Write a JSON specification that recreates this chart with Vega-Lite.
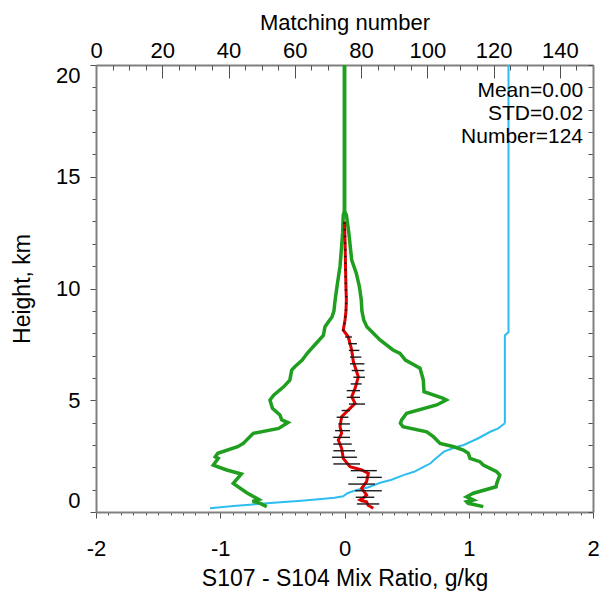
{
  "$schema": "https://vega.github.io/schema/vega-lite/v6.json",
  "autosize": "none",
  "width": 497,
  "height": 447,
  "padding": {"left": 96, "top": 65, "right": 11, "bottom": 83},
  "background": "white",
  "config": {
    "font": "Liberation Sans",
    "view": {"stroke": null},
    "axis": {
      "domainColor": "#808080",
      "domainWidth": 2,
      "tickColor": "#505050",
      "tickWidth": 1,
      "labelColor": "black",
      "titleColor": "black",
      "labelFont": "Liberation Sans",
      "titleFont": "Liberation Sans",
      "labelFontSize": 22,
      "titleFontSize": 23,
      "titleFontWeight": "normal",
      "grid": false,
      "labelOverlap": false,
      "labelBound": false
    }
  },
  "datasets": {
    "green": [
      {"side": "lo", "h": 0.24, "x": -0.626}, {"side": "lo", "h": 0.44, "x": -0.70}, {"side": "lo", "h": 0.47, "x": -0.74},
      {"side": "lo", "h": 0.56, "x": -0.69}, {"side": "lo", "h": 0.86, "x": -0.787}, {"side": "lo", "h": 1.28, "x": -0.895},
      {"side": "lo", "h": 1.70, "x": -0.83}, {"side": "lo", "h": 1.88, "x": -0.948}, {"side": "lo", "h": 2.10, "x": -1.056},
      {"side": "lo", "h": 2.40, "x": -1.016}, {"side": "lo", "h": 2.47, "x": -1.04}, {"side": "lo", "h": 2.63, "x": -1.02},
      {"side": "lo", "h": 2.92, "x": -0.86}, {"side": "lo", "h": 3.07, "x": -0.815}, {"side": "lo", "h": 3.52, "x": -0.734},
      {"side": "lo", "h": 3.74, "x": -0.53}, {"side": "lo", "h": 4.0, "x": -0.455}, {"side": "lo", "h": 4.12, "x": -0.505},
      {"side": "lo", "h": 4.34, "x": -0.52}, {"side": "lo", "h": 4.64, "x": -0.58}, {"side": "lo", "h": 5.01, "x": -0.60},
      {"side": "lo", "h": 5.23, "x": -0.57}, {"side": "lo", "h": 5.6, "x": -0.49}, {"side": "lo", "h": 5.9, "x": -0.44},
      {"side": "lo", "h": 6.35, "x": -0.425}, {"side": "lo", "h": 6.5, "x": -0.40}, {"side": "lo", "h": 6.8, "x": -0.34},
      {"side": "lo", "h": 7.1, "x": -0.30}, {"side": "lo", "h": 7.47, "x": -0.24}, {"side": "lo", "h": 7.9, "x": -0.17},
      {"side": "lo", "h": 8.29, "x": -0.157}, {"side": "lo", "h": 8.74, "x": -0.10}, {"side": "lo", "h": 9.0, "x": -0.085},
      {"side": "lo", "h": 9.5, "x": -0.075}, {"side": "lo", "h": 10.1, "x": -0.06}, {"side": "lo", "h": 11.0, "x": -0.036},
      {"side": "lo", "h": 11.9, "x": -0.023}, {"side": "lo", "h": 12.5, "x": -0.015}, {"side": "lo", "h": 13.3, "x": -0.01},
      {"side": "lo", "h": 13.45, "x": 0}, {"side": "lo", "h": 20, "x": 0},
      {"side": "hi", "h": 0.24, "x": 1.117}, {"side": "hi", "h": 0.39, "x": 0.996}, {"side": "hi", "h": 0.46, "x": 0.983},
      {"side": "hi", "h": 0.54, "x": 1.037}, {"side": "hi", "h": 0.68, "x": 0.983}, {"side": "hi", "h": 0.84, "x": 1.037},
      {"side": "hi", "h": 1.13, "x": 1.22}, {"side": "hi", "h": 1.28, "x": 1.225}, {"side": "hi", "h": 1.65, "x": 1.25},
      {"side": "hi", "h": 1.80, "x": 1.225}, {"side": "hi", "h": 2.10, "x": 1.117}, {"side": "hi", "h": 2.25, "x": 1.09},
      {"side": "hi", "h": 2.40, "x": 1.01}, {"side": "hi", "h": 2.63, "x": 0.996}, {"side": "hi", "h": 2.77, "x": 0.956},
      {"side": "hi", "h": 2.92, "x": 0.88}, {"side": "hi", "h": 3.07, "x": 0.769}, {"side": "hi", "h": 3.37, "x": 0.715},
      {"side": "hi", "h": 3.59, "x": 0.662}, {"side": "hi", "h": 3.82, "x": 0.47}, {"side": "hi", "h": 3.97, "x": 0.45},
      {"side": "hi", "h": 4.12, "x": 0.46}, {"side": "hi", "h": 4.42, "x": 0.50}, {"side": "hi", "h": 4.79, "x": 0.742},
      {"side": "hi", "h": 5.01, "x": 0.82}, {"side": "hi", "h": 5.09, "x": 0.795}, {"side": "hi", "h": 5.38, "x": 0.64},
      {"side": "hi", "h": 5.91, "x": 0.634}, {"side": "hi", "h": 6.43, "x": 0.608}, {"side": "hi", "h": 6.80, "x": 0.49},
      {"side": "hi", "h": 7.10, "x": 0.447}, {"side": "hi", "h": 7.25, "x": 0.39}, {"side": "hi", "h": 7.70, "x": 0.286},
      {"side": "hi", "h": 8.0, "x": 0.232}, {"side": "hi", "h": 8.29, "x": 0.18}, {"side": "hi", "h": 8.59, "x": 0.155},
      {"side": "hi", "h": 9.0, "x": 0.14}, {"side": "hi", "h": 9.5, "x": 0.135}, {"side": "hi", "h": 10.08, "x": 0.12},
      {"side": "hi", "h": 10.68, "x": 0.095}, {"side": "hi", "h": 11.27, "x": 0.058}, {"side": "hi", "h": 12.47, "x": 0.035},
      {"side": "hi", "h": 13.3, "x": 0.015}, {"side": "hi", "h": 13.45, "x": 0}, {"side": "hi", "h": 20, "x": 0}
    ],
    "red": [
      {"h": 0.17, "x": 0.232}, {"h": 0.30, "x": 0.19}, {"h": 0.46, "x": 0.178}, {"h": 0.50, "x": 0.14},
      {"h": 0.54, "x": 0.125}, {"h": 0.62, "x": 0.15}, {"h": 0.76, "x": 0.178}, {"h": 1.06, "x": 0.138},
      {"h": 1.36, "x": 0.178}, {"h": 1.73, "x": 0.192}, {"h": 1.88, "x": 0.138}, {"h": 2.03, "x": 0.044},
      {"h": 2.40, "x": -0.01}, {"h": 2.85, "x": -0.023}, {"h": 3.22, "x": -0.05}, {"h": 3.52, "x": -0.023},
      {"h": 3.82, "x": -0.036}, {"h": 4.26, "x": -0.023}, {"h": 4.56, "x": 0.03}, {"h": 4.86, "x": 0.085},
      {"h": 5.16, "x": 0.058}, {"h": 5.53, "x": 0.085}, {"h": 6.05, "x": 0.111}, {"h": 6.73, "x": 0.071},
      {"h": 7.25, "x": 0.058}, {"h": 7.84, "x": 0.03}, {"h": 8.14, "x": -0.01}, {"h": 8.3, "x": -0.005},
      {"h": 8.59, "x": 0.004}, {"h": 9.0, "x": 0.012}, {"h": 9.5, "x": 0.015}, {"h": 10.0, "x": 0.012},
      {"h": 11.0, "x": 0.008}, {"h": 12.0, "x": 0.005}, {"h": 13.0, "x": 0.0}
    ],
    "bars": [
      {"h": 0.36, "lo": 0.10, "hi": 0.28}, {"h": 0.66, "lo": 0.09, "hi": 0.24}, {"h": 0.95, "lo": 0.085, "hi": 0.30},
      {"h": 1.25, "lo": 0.03, "hi": 0.245}, {"h": 1.55, "lo": 0.10, "hi": 0.30}, {"h": 1.85, "lo": 0.05, "hi": 0.26},
      {"h": 2.15, "lo": -0.09, "hi": 0.125}, {"h": 2.45, "lo": -0.10, "hi": 0.10}, {"h": 2.74, "lo": -0.09, "hi": 0.085},
      {"h": 3.04, "lo": -0.09, "hi": 0.058}, {"h": 3.34, "lo": -0.09, "hi": 0.044}, {"h": 3.64, "lo": -0.076, "hi": 0.044},
      {"h": 3.94, "lo": -0.05, "hi": 0.044}, {"h": 4.24, "lo": -0.063, "hi": 0.031}, {"h": 4.54, "lo": -0.023, "hi": 0.044},
      {"h": 4.83, "lo": 0.035, "hi": 0.165}, {"h": 5.13, "lo": 0.018, "hi": 0.125}, {"h": 5.43, "lo": 0.018, "hi": 0.125},
      {"h": 5.73, "lo": 0.05, "hi": 0.138}, {"h": 6.03, "lo": 0.071, "hi": 0.165}, {"h": 6.33, "lo": 0.058, "hi": 0.16},
      {"h": 6.63, "lo": 0.044, "hi": 0.16}, {"h": 6.93, "lo": 0.044, "hi": 0.135}, {"h": 7.23, "lo": 0.035, "hi": 0.12},
      {"h": 7.53, "lo": 0.03, "hi": 0.10}, {"h": 7.83, "lo": 0.005, "hi": 0.06},
      {"h": 8.13, "lo": -0.02, "hi": 0.0}, {"h": 8.43, "lo": -0.01, "hi": 0.01}, {"h": 8.73, "lo": -0.003, "hi": 0.017},
      {"h": 9.03, "lo": 0.002, "hi": 0.022}, {"h": 9.33, "lo": 0.004, "hi": 0.024}, {"h": 9.63, "lo": 0.004, "hi": 0.024},
      {"h": 9.93, "lo": 0.002, "hi": 0.022}, {"h": 10.23, "lo": 0.001, "hi": 0.021}, {"h": 10.53, "lo": 0.0, "hi": 0.02},
      {"h": 10.83, "lo": -0.001, "hi": 0.019}, {"h": 11.13, "lo": -0.002, "hi": 0.018}, {"h": 11.43, "lo": -0.003, "hi": 0.017},
      {"h": 11.73, "lo": -0.004, "hi": 0.016}, {"h": 12.03, "lo": -0.005, "hi": 0.015}, {"h": 12.33, "lo": -0.006, "hi": 0.014},
      {"h": 12.63, "lo": -0.008, "hi": 0.012}, {"h": 12.93, "lo": -0.01, "hi": 0.01}
    ],
    "cyanLow": [
      {"h": 0.17, "n": 34.4}, {"h": 0.27, "n": 41.5}, {"h": 0.39, "n": 51.5}, {"h": 0.50, "n": 62}, {"h": 0.58, "n": 68},
      {"h": 0.64, "n": 72}, {"h": 0.70, "n": 74.6}, {"h": 0.85, "n": 76}, {"h": 1.00, "n": 79}, {"h": 1.10, "n": 82},
      {"h": 1.32, "n": 86}, {"h": 1.43, "n": 89}, {"h": 1.66, "n": 93}, {"h": 1.80, "n": 96}, {"h": 2.03, "n": 99},
      {"h": 2.18, "n": 101}, {"h": 2.33, "n": 102}, {"h": 2.70, "n": 105}, {"h": 2.92, "n": 109}, {"h": 3.00, "n": 111},
      {"h": 3.30, "n": 115.4}, {"h": 3.59, "n": 119}, {"h": 3.74, "n": 121.4}, {"h": 3.97, "n": 123.4}
    ],
    "cyanHigh": [
      {"h": 3.97, "n": 123.4}, {"h": 7.9, "n": 123.4}, {"h": 8.05, "n": 124.5}, {"h": 20, "n": 124.5}
    ],
    "stats": [
      {"label": "Mean=0.00\nSTD=0.02\nNumber=124"}
    ]
  },
  "layer": [
    {
      "mark": {"type": "rule", "color": "#8c8c8c", "strokeWidth": 2},
      "encoding": {
        "x": {
          "datum": 0, "type": "quantitative",
          "scale": {"domain": [-2, 2], "nice": false, "zero": false},
          "axis": {
            "orient": "bottom",
            "title": "S107 - S104 Mix Ratio, g/kg",
            "values": [-2, -1.9, -1.8, -1.7, -1.6, -1.5, -1.4, -1.3, -1.2, -1.1, -1, -0.9, -0.8, -0.7, -0.6, -0.5, -0.4, -0.3, -0.2, -0.1, 0, 0.1, 0.2, 0.3, 0.4, 0.5, 0.6, 0.7, 0.8, 0.9, 1, 1.1, 1.2, 1.3, 1.4, 1.5, 1.6, 1.7, 1.8, 1.9, 2],
            "labelExpr": "abs(datum.value - round(datum.value)) < 0.001 ? '' + round(datum.value) : ''",
            "tickSize": {"condition": {"test": "abs(datum.value - round(datum.value)) < 0.001", "value": 6}, "value": 3},
            "labelPadding": 20,
            "labelFlush": false,
            "titleY": 73,
            "titleBaseline": "alphabetic"
          }
        },
        "y": {
          "datum": 0, "type": "quantitative",
          "scale": {"domain": [0, 20], "nice": false, "zero": false},
          "axis": {
            "orient": "left",
            "title": "Height, km",
            "values": [0, 1, 2, 3, 4, 5, 6, 7, 8, 9, 10, 11, 12, 13, 14, 15, 16, 17, 18, 19, 20],
            "labelExpr": "datum.value % 5 == 0 ? '' + datum.value : ''",
            "tickSize": {"condition": {"test": "datum.value % 5 == 0", "value": 6}, "value": 4},
            "labelPadding": 10,
            "labelFlush": true,
            "titleX": -67,
            "titleBaseline": "alphabetic"
          }
        },
        "y2": {"datum": 20}
      }
    },
    {
      "data": {"name": "cyanLow"},
      "mark": {"type": "line", "color": "#2dbdf0", "strokeWidth": 2},
      "encoding": {
        "x": {
          "field": "n", "type": "quantitative",
          "scale": {"domain": [0, 150], "nice": false, "zero": false},
          "axis": {
            "orient": "top",
            "title": "Matching number",
            "values": [0, 20, 40, 60, 80, 100, 120, 140],
            "labelExpr": "'' + datum.value",
            "ticks": false,
            "tickSize": 0,
            "labelPadding": 8,
            "labelBaseline": "alphabetic",
            "labelFlush": false,
            "titleY": -36,
            "titleBaseline": "alphabetic",
            "titleFontSize": 22
          }
        },
        "y": {
          "field": "h", "type": "quantitative",
          "scale": {"domain": [0, 20], "nice": false, "zero": false},
          "axis": {
            "orient": "left",
            "offset": -497,
            "title": null,
            "labels": false,
            "values": [0, 1, 2, 3, 4, 5, 6, 7, 8, 9, 10, 11, 12, 13, 14, 15, 16, 17, 18, 19, 20],
            "tickSize": 5
          }
        },
        "order": {"field": "h"}
      }
    },
    {
      "data": {"name": "cyanHigh"},
      "mark": {"type": "line", "color": "#2dbdf0", "strokeWidth": 2},
      "encoding": {
        "x": {
          "field": "n", "type": "quantitative",
          "scale": {"domain": [0, 150], "nice": false, "zero": false},
          "axis": {
            "orient": "bottom",
            "offset": -447,
            "title": null,
            "labels": false,
            "domain": false,
            "values": [0, 5, 10, 15, 20, 25, 30, 35, 40, 45, 50, 55, 60, 65, 70, 75, 80, 85, 90, 95, 100, 105, 110, 115, 120, 125, 130, 135, 140, 145, 150],
            "tickSize": {"condition": {"test": "datum.value % 20 == 0", "value": 13}, "value": 5}
          }
        },
        "y": {"field": "h", "type": "quantitative", "axis": null},
        "order": {"field": "h"}
      }
    },
    {
      "data": {"name": "green"},
      "mark": {"type": "line", "color": "#1f9e1f", "strokeWidth": 3.5},
      "encoding": {
        "x": {"field": "x", "type": "quantitative", "scale": {"domain": [-2, 2], "nice": false, "zero": false}, "axis": null},
        "y": {"field": "h", "type": "quantitative", "axis": null},
        "detail": {"field": "side"},
        "order": {"field": "h"}
      }
    },
    {
      "data": {"name": "red"},
      "mark": {"type": "line", "color": "#e00000", "strokeWidth": 3},
      "encoding": {
        "x": {"field": "x", "type": "quantitative", "scale": {"domain": [-2, 2], "nice": false, "zero": false}, "axis": null},
        "y": {"field": "h", "type": "quantitative", "axis": null},
        "order": {"field": "h"}
      }
    },
    {
      "data": {"name": "bars"},
      "mark": {"type": "rule", "color": "#1a1a1a", "strokeWidth": 1.4},
      "encoding": {
        "x": {"field": "lo", "type": "quantitative", "scale": {"domain": [-2, 2], "nice": false, "zero": false}, "axis": null},
        "x2": {"field": "hi"},
        "y": {"field": "h", "type": "quantitative", "axis": null}
      }
    },
    {
      "data": {"name": "stats"},
      "mark": {"type": "text", "align": "right", "baseline": "alphabetic", "fontSize": 21, "lineHeight": 23, "lineBreak": "\n", "font": "Liberation Sans", "color": "black"},
      "encoding": {
        "x": {"datum": 1.92, "type": "quantitative", "scale": {"domain": [-2, 2], "nice": false, "zero": false}, "axis": null},
        "y": {"datum": 18.55, "type": "quantitative", "axis": null},
        "text": {"field": "label"}
      }
    }
  ],
  "resolve": {"scale": {"x": "independent"}, "axis": {"x": "independent", "y": "independent"}}
}
